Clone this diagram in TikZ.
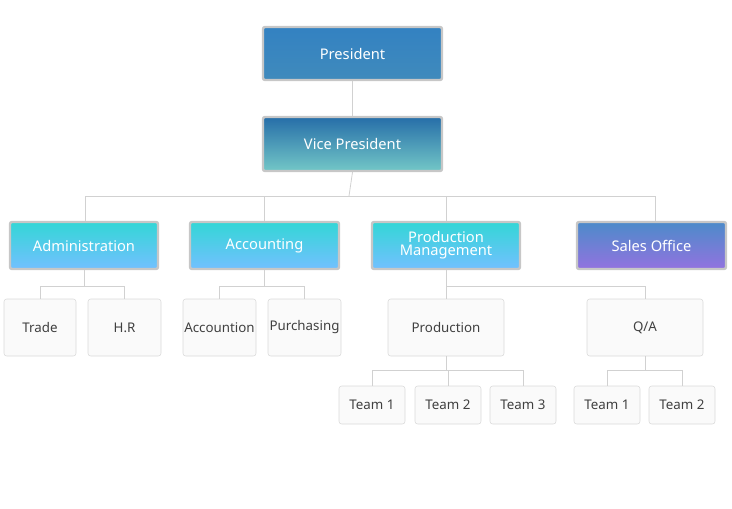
\documentclass[tikz,border=0pt]{standalone}
\usepackage{fontspec}
\setmainfont{Noto Sans}
\usetikzlibrary{positioning}
\colorlet{edge}{black!18}
\colorlet{frame}{black!22}
\tikzset{
  % node options
  box/.style={rectangle,rounded corners=1.5pt,draw=frame,line width=1.8pt,
    text=white,font=\fontsize{11}{12}\selectfont,align=center,inner sep=0pt},
  head/.style={box,top color=blue!45!cyan!70!black!80,bottom color=blue!40!cyan!65!black!75},
  vice/.style={box,top color=cyan!55!blue!60!black!85,bottom color=cyan!60!black!55!white},
  dept/.style={box,top color=cyan!60!teal!80,bottom color=cyan!55!blue!55!white},
  sales/.style={box,top color=blue!50!cyan!70!black!70,bottom color=blue!55!violet!55!white},
  unit/.style={rectangle,rounded corners=2pt,draw=black!15,fill=black!2,
    text=black!75,font=\fontsize{10}{12}\selectfont,inner sep=0pt},
  % path options
  link/.style={draw=edge,line width=0.6pt},
}
\newcommand{\bx}[7]{\node[#6,minimum width={(#4-#2)*0.75pt},minimum height={(#5-#3)*0.75pt}]
  (#1) at ({(#2+#4)/2},{(#3+#5)/2}) {#7};}
\begin{document}
\begin{tikzpicture}[x=0.75pt,y=-0.75pt]
  \useasboundingbox (0,0) rectangle (732,508);
  \bx{pres}{263}{27}{442}{80}{head}{President}
  \bx{vp}{263}{117}{442}{171}{vice}{Vice President}
  \bx{adm}{10}{222}{158}{269}{dept}{Administration}
  \bx{acc}{190}{222}{339}{269}{dept}{Accounting}
  \bx{prm}{372}{222}{520}{269}{dept}{Production\\[-2pt]Management}
  \bx{sal}{577}{222}{726}{269}{sales}{Sales Office}
  \bx{trade}{4}{299}{76}{356}{unit}{Trade}
  \bx{hr}{88}{299}{161}{356}{unit}{H.R}
  \bx{accn}{183}{299}{256}{356}{unit}{Accountion}
  \bx{purch}{268}{299}{341}{356}{unit}{Purchasing}
  \bx{prod}{388}{299}{504}{356}{unit}{Production}
  \bx{qa}{587}{299}{703}{356}{unit}{Q/A}
  \bx{pta}{339}{386}{405}{424}{unit}{Team 1}
  \bx{ptb}{415}{386}{481}{424}{unit}{Team 2}
  \bx{ptc}{490}{386}{556}{424}{unit}{Team 3}
  \bx{qta}{574}{386}{640}{424}{unit}{Team 1}
  \bx{qtb}{649}{386}{715}{424}{unit}{Team 2}
  \draw[link] (pres.south) -- (vp.north);
  \draw[link] (vp.south) -- (349,196);
  \draw[link] (85,196) -- (655,196);
  \foreach \d/\x in {adm/85,acc/264,prm/446,sal/655}
    \draw[link] (\x,196) -- (\x,0 |- \d.north);
  \draw[link] (adm.south) -- ++(0,16) coordinate (ja) (trade.north |- ja) -- (hr.north |- ja)
    (trade.north |- ja) -- (trade.north) (hr.north |- ja) -- (hr.north);
  \draw[link] (acc.south) -- ++(0,16) coordinate (jb) (accn.north |- jb) -- (purch.north |- jb)
    (accn.north |- jb) -- (accn.north) (purch.north |- jb) -- (purch.north);
  \draw[link] (prm.south) -- ++(0,16) coordinate (jc) -- (qa.north |- jc) -- (qa.north)
    (prod.north |- jc) -- (prod.north);
  \draw[link] (prod.south) -- ++(0,14) coordinate (jd) (pta.north |- jd) -- (ptc.north |- jd)
    (pta.north |- jd) -- (pta.north) (ptb.north |- jd) -- (ptb.north) (ptc.north |- jd) -- (ptc.north);
  \draw[link] (qa.south) -- ++(0,14) coordinate (je) (qta.north |- je) -- (qtb.north |- je)
    (qta.north |- je) -- (qta.north) (qtb.north |- je) -- (qtb.north);
\end{tikzpicture}
\end{document}
